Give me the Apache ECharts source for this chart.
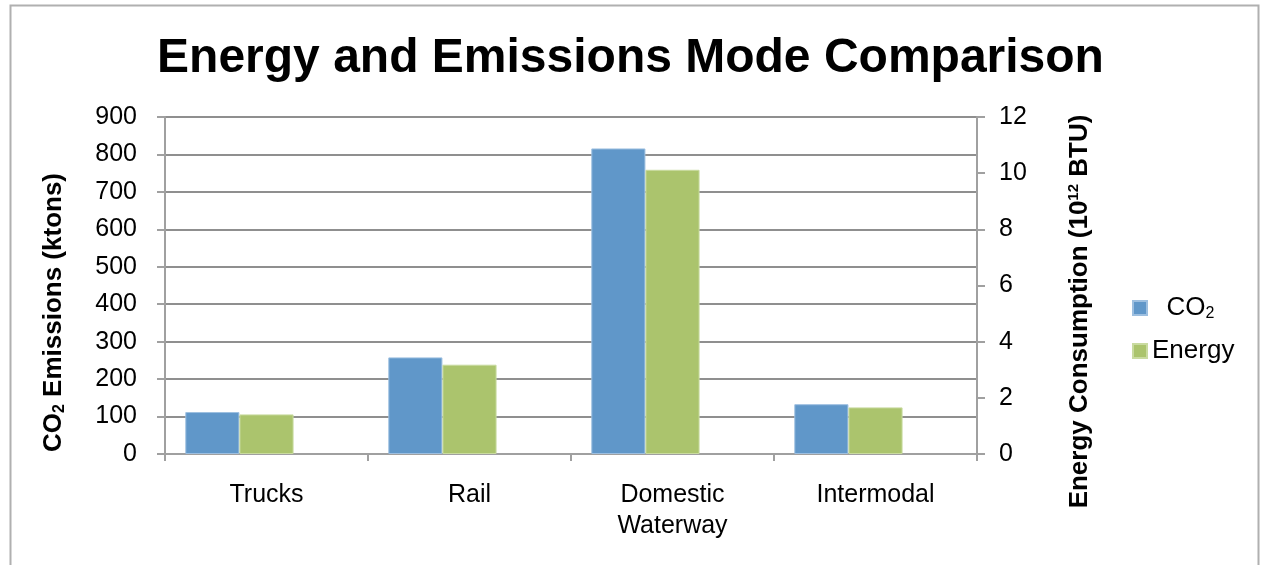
<!DOCTYPE html>
<html>
<head>
<meta charset="utf-8">
<script src="https://cdn.jsdelivr.net/npm/echarts@6/dist/echarts.min.js"></script>
<style>
html, body { margin: 0; padding: 0; background: #fff; }
#chart { width: 1261px; height: 565px; }
</style>
</head>
<body>
<div id="chart"></div>
<script>
// 模式对比数据
var categories = ['Trucks', 'Rail', 'Domestic\nWaterway', 'Intermodal'];
var co2Values = [112, 258, 816, 133];          // ktons
var energyValues = [1.41, 3.18, 10.12, 1.66];   // 10^12 BTU
var leftTicks = { min: 0, max: 900, interval: 100 };
var rightTicks = { min: 0, max: 12, interval: 2 };

var font = 'Liberation Sans, Arial, sans-serif';
var axisGray = '#a0a0a0';

var myChart = echarts.init(document.getElementById('chart'));
var option = {
    backgroundColor: '#fff',
    color: ['#6097C9', '#ABC46D'],
    textStyle: { fontFamily: font },
    graphic: [{
        type: 'rect',
        shape: { x: 10.5, y: 5.5, width: 1248, height: 600 },
        style: { fill: 'none', stroke: '#b0b0b0', lineWidth: 2 },
        silent: true
    }],
    title: {
        text: 'Energy and Emissions Mode Comparison',
        left: 'center',
        top: 30,
        textStyle: { fontFamily: font, fontSize: 48, fontWeight: 'bold', color: '#000' }
    },
    legend: {
        orient: 'vertical',
        left: 1127,
        top: 290,
        itemWidth: 14,
        itemHeight: 14,
        itemGap: 16,
        icon: 'rect',
        data: ['CO2', 'Energy'],
        formatter: function (name) {
            return name === 'CO2' ? '  CO{sub|2}' : name;
        },
        textStyle: {
            fontFamily: font, fontSize: 26, color: '#000',
            rich: {
                sub: { fontFamily: font, fontSize: 16, verticalAlign: 'bottom', padding: [12, 0, 0, 0], color: '#000' }
            }
        }
    },
    grid: { left: 165, right: 284, top: 117, bottom: 111 },
    xAxis: {
        type: 'category',
        data: categories,
        axisLine: { lineStyle: { color: axisGray, width: 2 } },
        axisTick: { show: true, length: 7, lineStyle: { color: axisGray, width: 2 } },
        axisLabel: { fontFamily: font, fontSize: 25, color: '#000', margin: 26, lineHeight: 31 }
    },
    yAxis: [{
        type: 'value',
        min: leftTicks.min,
        max: leftTicks.max,
        interval: leftTicks.interval,
        name: 'CO{sub|2} Emissions (ktons)',
        nameLocation: 'middle',
        nameGap: 97,
        nameTextStyle: {
            fontFamily: font, fontSize: 26, fontWeight: 'bold', color: '#000',
            padding: [0, 54, 0, 0],
            rich: {
                sub: { fontFamily: font, fontSize: 16, fontWeight: 'bold', verticalAlign: 'bottom', padding: [12, 0, 0, 0], color: '#000' }
            }
        },
        axisLine: { show: true, lineStyle: { color: axisGray, width: 2 } },
        axisTick: { show: true, inside: false, length: 8, lineStyle: { color: axisGray, width: 2 } },
        axisLabel: { fontFamily: font, fontSize: 25, color: '#000', margin: 28 },
        splitLine: { show: true, lineStyle: { color: '#8f8f8f', width: 2 } }
    }, {
        type: 'value',
        position: 'right',
        min: rightTicks.min,
        max: rightTicks.max,
        interval: rightTicks.interval,
        name: 'Energy Consumption (10{sup|12} BTU)',
        nameLocation: 'middle',
        nameGap: 89,
        nameRotate: 90,
        nameTextStyle: {
            fontFamily: font, fontSize: 26, fontWeight: 'bold', color: '#000',
            padding: [0, 52, 0, 0],
            rich: {
                sup: { fontFamily: font, fontSize: 15, fontWeight: 'bold', verticalAlign: 'top', padding: [0, 0, 12, 0], color: '#000' }
            }
        },
        axisLine: { show: true, lineStyle: { color: axisGray, width: 2 } },
        axisTick: { show: true, inside: false, length: 8, lineStyle: { color: axisGray, width: 2 } },
        axisLabel: { fontFamily: font, fontSize: 25, color: '#000', margin: 22 },
        splitLine: { show: false }
    }],
    series: [{
        name: 'CO2',
        type: 'bar',
        yAxisIndex: 0,
        data: co2Values,
        barCategoryGap: '20%',
        barGap: '0%',
        itemStyle: { borderColor: '#9dbfe0', borderWidth: 1 }
    }, {
        name: 'Energy',
        type: 'bar',
        yAxisIndex: 1,
        data: energyValues,
        barGap: '0%',
        itemStyle: { borderColor: '#c9dba0', borderWidth: 1 }
    }, {
        // 占位系列（原图每组留有一个空位）
        name: 'blank',
        type: 'bar',
        yAxisIndex: 0,
        data: [],
        barGap: '0%'
    }]
};
myChart.setOption(option);
</script>
</body>
</html>
